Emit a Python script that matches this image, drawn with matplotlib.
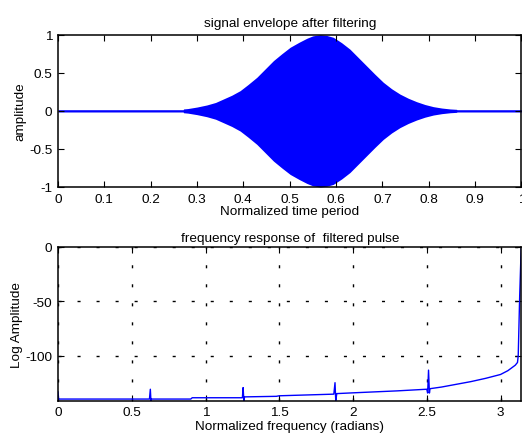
import numpy as np
import matplotlib
matplotlib.use("Agg")
import matplotlib.pyplot as plt

plt.rcParams['font.family'] = ['Liberation Sans', 'DejaVu Sans']
plt.rcParams['font.size'] = 9.7

# envelope of the filtered signal (top panel)
t_env = [0.0, 0.27, 0.271, 0.28, 0.30, 0.321, 0.34, 0.357, 0.375, 0.393,
         0.41, 0.429, 0.447, 0.465, 0.483, 0.501, 0.52, 0.537, 0.55, 0.566,
         0.58, 0.594, 0.612, 0.63, 0.648, 0.666, 0.684, 0.702, 0.72, 0.738,
         0.756, 0.774, 0.792, 0.81, 0.828, 0.846, 0.86, 0.861, 1.0]
env = [0.015, 0.015, 0.025, 0.03, 0.05, 0.077, 0.11, 0.156, 0.205, 0.265,
       0.345, 0.44, 0.55, 0.66, 0.75, 0.835, 0.90, 0.953, 0.985, 1.0,
       0.99, 0.966, 0.895, 0.81, 0.70, 0.59, 0.48, 0.375, 0.29, 0.22,
       0.165, 0.12, 0.083, 0.055, 0.037, 0.025, 0.02, 0.015, 0.015]

# frequency response (bottom panel)
freq = [0.0, 0.004, 0.62, 0.626, 0.630, 0.634, 0.64, 0.90, 0.91, 1.25,
        1.255, 1.26, 1.265, 1.48, 1.50, 1.87, 1.878, 1.883, 1.89, 2.0,
        2.3, 2.50, 2.506, 2.512, 2.518, 2.522, 2.6, 2.7, 2.8, 2.9, 3.0,
        3.05, 3.1, 3.115, 3.12, 3.13, 3.138, np.pi]
log_amp = [-133, -139.5, -139.5, -130.5, -141, -139.5, -139.5, -139.5, -138.3, -138.3,
           -129, -141, -137.5, -137, -136.5, -135, -124.5, -141, -134.5, -133.8,
           -132, -130.5, -134, -113, -134, -130, -128.5, -126, -123.5, -120.5, -117,
           -113.5, -108.5, -106, -100, -45, -10, 0]

top_xticks = np.round(np.arange(0, 1.01, 0.1), 1)
top_yticks = [-1, -0.5, 0, 0.5, 1]
bot_xticks = [0, 0.5, 1, 1.5, 2, 2.5, 3]
bot_yticks = [-100, -50, 0]

W, H = 522, 439
fig = plt.figure(figsize=(W / 100, H / 100), dpi=100)

def style(ax):
    ax.tick_params(direction='in', top=True, right=True, length=4, width=0.8,
                   pad=4, labelsize=9.7)
    for s in ax.spines.values():
        s.set_linewidth(1.1)

# top panel
ax1 = fig.add_axes([58 / W, (H - 188) / H, 463.4 / W, 152.3 / H])
ax1.fill_between(t_env, [-e for e in env], env, color='#0000ff', linewidth=0)
ax1.set_xlim(0, 1)
ax1.set_ylim(-1, 1)
ax1.set_xticks(top_xticks)
ax1.set_xticklabels([f"{v:g}" for v in top_xticks])
ax1.set_yticks(top_yticks)
ax1.set_yticklabels([f"{v:g}" for v in top_yticks])
style(ax1)
ax1.set_title("signal envelope after filtering", fontsize=9.7, pad=6)
ax1.set_xlabel("Normalized time period", fontsize=9.7, labelpad=0)
ax1.set_ylabel("amplitude", fontsize=9.7, labelpad=2)

# bottom panel
ax2 = fig.add_axes([58 / W, (H - 401.7) / H, 463.4 / W, 154 / H])
ax2.plot(freq, log_amp, color='#0000ff', linewidth=1.0)
ax2.set_xlim(0, np.pi)
ax2.set_ylim(-141, 0)
ax2.set_xticks(bot_xticks)
ax2.set_xticklabels([f"{v:g}" for v in bot_xticks])
ax2.set_yticks(bot_yticks)
ax2.set_yticklabels([f"{v:g}" for v in bot_yticks])
ax2.grid(True, color='black', linewidth=1.0, linestyle=(0, (2.2, 11.5)))
style(ax2)
ax2.set_title("frequency response of  filtered pulse", fontsize=9.7, pad=4)
ax2.set_xlabel("Normalized frequency (radians)", fontsize=9.7, labelpad=1)
ax2.set_ylabel("Log Amplitude", fontsize=9.7, labelpad=2)

fig.savefig("out.png", dpi=100)
